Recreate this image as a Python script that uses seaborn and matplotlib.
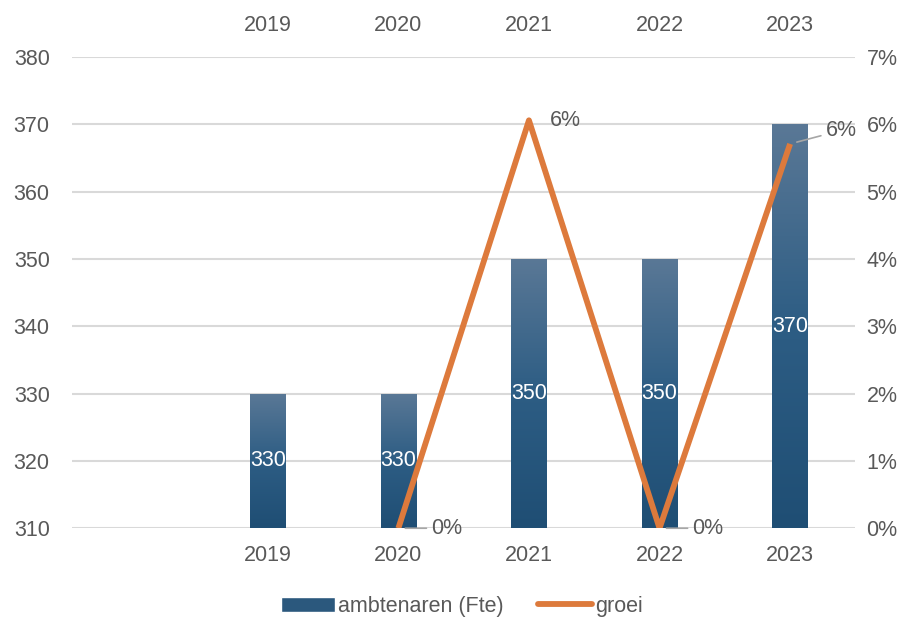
import numpy as np
import pandas as pd
import matplotlib.pyplot as plt
import seaborn as sns
from matplotlib.colors import LinearSegmentedColormap
from matplotlib.patches import Rectangle
from matplotlib.lines import Line2D

# data
categories = ["", "2019", "2020", "2021", "2022", "2023"]
fte = [np.nan, 330, 330, 350, 350, 370]
groei = [np.nan, np.nan, 0.0, 0.0606, 0.0, 0.0571]

sns.set_theme(style="white")
plt.rcParams["font.family"] = ["Liberation Sans", "DejaVu Sans"]
grey = "#595959"
orange = "#dd7a3c"
fs = 15.5

df = pd.DataFrame({"jaar": categories, "fte": fte, "groei": groei})

fig = plt.figure(figsize=(9.1, 6.2), dpi=100)
ax = fig.add_axes([0.079, 0.148, 0.861, 0.76])

sns.barplot(data=df, x="jaar", y="fte", order=categories, color="#2b587d",
            width=0.27, ax=ax, zorder=2)
ax.set_ylim(310, 380)
ax.set_yticks(range(310, 381, 10))
ax.yaxis.grid(True, color="#d9d9d9", linewidth=1.5, zorder=0)
ax.set_axisbelow(True)
ax.set_xlabel("")
ax.set_ylabel("")
for s in ax.spines.values():
    s.set_visible(False)
ax.tick_params(axis="both", length=0, labelsize=fs, colors=grey)
ax.tick_params(axis="y", pad=16)
ax.tick_params(axis="x", pad=12)

# gradient fill on the bars
cmap = LinearSegmentedColormap.from_list("bar", ["#1f4e74", "#2d5d84", "#5a7896"])
grad = np.linspace(0, 1, 256).reshape(-1, 1)
for p in ax.patches:
    h = p.get_height()
    if np.isnan(h) or h <= 0:
        continue
    x0 = p.get_x()
    w = p.get_width()
    p.set_facecolor("none")
    p.set_edgecolor("none")
    im = ax.imshow(grad, cmap=cmap, origin="lower", aspect="auto",
                   extent=[x0, x0 + w, 310, h], zorder=2)
    im.set_clip_path(p)
    ax.text(x0 + w / 2, (310 + h) / 2, f"{h:.0f}", color="white",
            ha="center", va="center", fontsize=fs, zorder=5)
ax.set_xlim(-0.5, len(categories) - 0.5)
ax.set_ylim(310, 380)

# top duplicate year labels
top = ax.secondary_xaxis("top")
top.set_xticks(range(len(categories)))
top.set_xticklabels(categories)
top.tick_params(length=0, labelsize=fs, colors=grey, pad=15)
for s in top.spines.values():
    s.set_visible(False)

# growth line on the right axis
ax2 = ax.twinx()
xpos = np.arange(len(categories))
line_df = pd.DataFrame({"x": xpos, "groei": groei}).dropna()
sns.lineplot(data=line_df, x="x", y="groei", color=orange, linewidth=4.2,
             ax=ax2, zorder=4, solid_capstyle="butt")
ax2.set_ylim(0, 0.07)
ax2.set_yticks(np.arange(0, 0.0701, 0.01))
ax2.set_yticklabels([f"{v:.0f}%" for v in np.arange(0, 7.01, 1)])
ax2.set_ylabel("")
ax2.set_xlabel("")
ax2.tick_params(axis="y", length=0, labelsize=fs, colors=grey, pad=8)
for s in ax2.spines.values():
    s.set_visible(False)
ax2.set_xlim(-0.5, len(categories) - 0.5)

# growth labels
offsets = {2: (0.37, 0.0), 3: (0.28, 0.0), 4: (0.37, 0.0), 5: (0.39, 0.002)}
for i, (xo, yo) in offsets.items():
    v = groei[i]
    leader = i != 3
    ax2.annotate(f"{v * 100:.0f}%", xy=(i, v), xytext=(i + xo, v + yo),
                 ha="center", va="center", fontsize=fs, color=grey,
                 arrowprops=dict(arrowstyle="-", color="#a6a6a6", lw=1.2,
                                 shrinkA=1, shrinkB=5) if leader else None,
                 zorder=6)

handles = [Rectangle((0, 0), 1, 1, facecolor="#2b587d"),
           Line2D([0], [0], color=orange, linewidth=4.2, solid_capstyle="round")]
fig.legend(handles, ["ambtenaren (Fte)", "groei"], loc="center",
           bbox_to_anchor=(0.508, 0.022), ncol=2, frameon=False, fontsize=fs,
           labelcolor=grey, handlelength=2.5, handletextpad=0.15,
           columnspacing=1.6)

fig.savefig("out.png", dpi=100)
